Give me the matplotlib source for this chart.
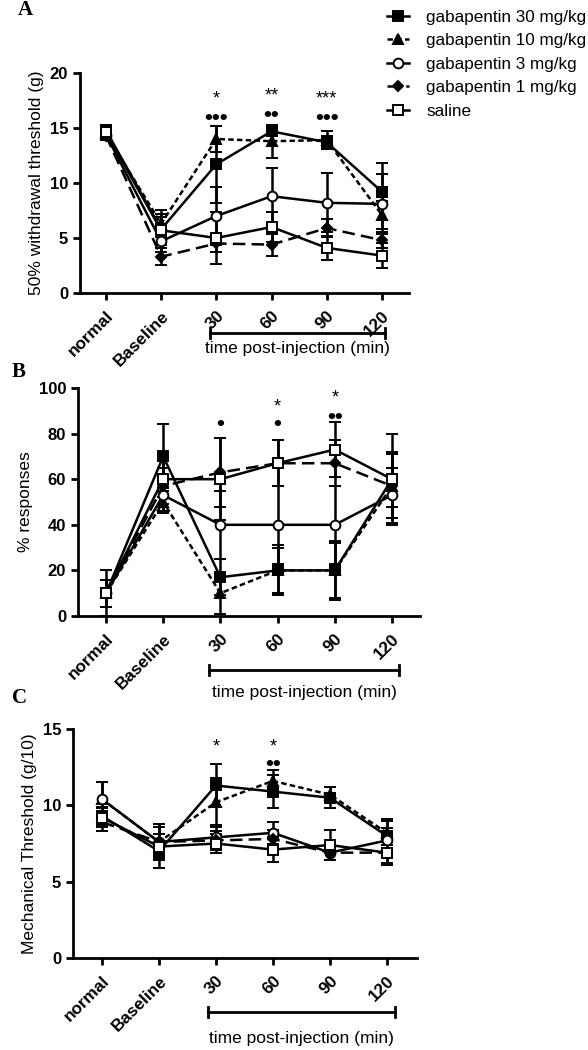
import numpy as np
import matplotlib
matplotlib.use('Agg')
import matplotlib.pyplot as plt
from matplotlib.lines import Line2D

plt.rcParams['font.family'] = ['Liberation Sans', 'DejaVu Sans']

W, H = 588, 1050

categorias = ['normal', 'Baseline', '30', '60', '90', '120']
grupos = ['gabapentin 30 mg/kg', 'gabapentin 10 mg/kg', 'gabapentin 3 mg/kg',
          'gabapentin 1 mg/kg', 'saline']

# Panel A - 50% withdrawal threshold (g)
a_30 = [14.8, 5.8, 11.7, 14.7, 13.7, 9.2]
a_10 = [14.5, 6.3, 14.0, 13.8, 13.9, 7.1]
a_3 = [14.4, 4.7, 7.0, 8.8, 8.2, 8.1]
a_1 = [14.3, 3.3, 4.5, 4.4, 5.9, 4.8]
a_sal = [14.6, 5.7, 5.0, 6.0, 4.1, 3.4]
a_30_err = [0.3, 1.4, 3.5, 0.4, 0.6, 2.6]
a_10_err = [0.3, 1.2, 1.2, 1.5, 0.8, 1.3]
a_3_err = [0.4, 1.0, 2.6, 2.6, 2.7, 2.7]
a_1_err = [0.4, 0.8, 0.8, 1.0, 0.8, 0.7]
a_sal_err = [0.4, 1.2, 2.4, 1.4, 1.1, 1.1]

# Panel B - % responses
b_30 = [10, 70, 17, 20, 20, 60]
b_10 = [10, 50, 10, 20, 20, 57]
b_3 = [10, 53, 40, 40, 40, 53]
b_1 = [10, 57, 63, 67, 67, 57]
b_sal = [10, 60, 60, 67, 73, 60]
b_30_err = [10, 14, 8, 10, 12, 20]
b_10_err = [6, 5, 9, 11, 13, 14]
b_3_err = [6, 7, 15, 17, 17, 12]
b_1_err = [6, 8, 15, 10, 10, 14]
b_sal_err = [6, 8, 18, 10, 12, 12]

# Panel C - Mechanical threshold (g/10)
c_30 = [9.3, 7.0, 11.3, 10.9, 10.5, 8.0]
c_10 = [10.4, 7.6, 10.2, 11.6, 10.7, 8.2]
c_3 = [10.4, 7.6, 7.9, 8.2, 6.9, 7.7]
c_1 = [8.9, 7.6, 7.7, 7.8, 6.9, 6.9]
c_sal = [9.2, 7.3, 7.5, 7.1, 7.4, 6.9]
c_30_err = [0.6, 1.1, 1.4, 1.1, 0.7, 1.1]
c_10_err = [1.1, 1.2, 1.6, 0.7, 0.5, 0.8]
c_3_err = [1.1, 1.2, 0.8, 0.7, 0.5, 0.8]
c_1_err = [0.6, 1.0, 0.6, 0.6, 0.5, 0.8]
c_sal_err = [0.6, 0.8, 0.6, 0.8, 1.0, 0.7]

# anotaciones (indice de categoria, texto, valor y)
a_notas = [(2, '*', 17.6), (2, '•••', 16.1), (3, '**', 17.9), (3, '••', 16.4),
           (4, '***', 17.6), (4, '•••', 16.1)]
b_notas = [(2, '•', 85), (3, '*', 91.5), (3, '•', 85), (4, '*', 95.5), (4, '••', 88.3)]
c_notas = [(2, '*', 13.8), (3, '*', 13.8), (3, '••', 12.85)]

estilos = [
    dict(marker='s', mfc='black', ls='-'),
    dict(marker='^', mfc='black', ls=(0, (2.2, 1.3))),
    dict(marker='o', mfc='white', ls='-'),
    dict(marker='D', mfc='black', ls=(0, (5, 2.5))),
    dict(marker='s', mfc='white', ls='-'),
]


def px(x, y):
    return x / W, 1 - y / H


def dibujar_panel(fig, rect, series, errores, notas, ylim, yticks, ylabel, xlim):
    l, t, r, b = rect
    x0, y0 = px(l, b)
    x1, y1 = px(r, t)
    ax = fig.add_axes([x0, y0, x1 - x0, y1 - y0])
    x = np.arange(len(categorias))
    for vals, errs, est in zip(series, errores, estilos):
        ax.errorbar(x, vals, yerr=errs, color='black', lw=1.8, ls=est['ls'],
                    marker=est['marker'], mfc=est['mfc'], mec='black', mew=1.4,
                    ms=7 if est['marker'] != 'D' else 5.5,
                    ecolor='black', elinewidth=1.8, capsize=4.5, capthick=1.8)
    for i, txt, yv in notas:
        if '*' in txt:
            ax.text(i, yv, txt, ha='center', va='center', fontsize=13)
        else:
            ax.text(i, yv, txt, ha='center', va='center_baseline',
                    fontsize=16, fontweight='bold')
    ax.set_xlim(*xlim)
    ax.set_ylim(*ylim)
    ax.set_yticks(yticks)
    ax.set_xticks(x)
    ax.set_xticklabels(categorias, rotation=45, ha='right', rotation_mode='anchor',
                       fontweight='bold', fontsize=12.3)
    for lab in ax.get_yticklabels():
        lab.set_fontweight('bold')
        lab.set_fontsize(12)
    ax.set_ylabel(ylabel, fontsize=12.5)
    for s in ['top', 'right']:
        ax.spines[s].set_visible(False)
    for s in ['left', 'bottom']:
        ax.spines[s].set_linewidth(2)
    ax.tick_params(width=2, length=5)
    ax.tick_params(axis='x', pad=6)
    return ax


def corchete(fig, xa, xb, yb, ytxt):
    fa = px(xa, yb)
    fb = px(xb, yb)
    fig.add_artist(Line2D([fa[0], fb[0]], [fa[1], fa[1]], color='black', lw=2,
                          transform=fig.transFigure))
    for xx in (xa, xb):
        p1 = px(xx, yb - 5)
        p2 = px(xx, yb + 5)
        fig.add_artist(Line2D([p1[0], p2[0]], [p1[1], p2[1]], color='black', lw=2,
                              transform=fig.transFigure))
    pt = px((xa + xb) / 2, ytxt)
    fig.text(pt[0], pt[1], 'time post-injection (min)', ha='center', va='center',
             fontsize=12.5)


fig = plt.figure(figsize=(W / 100, H / 100), dpi=100)

ax_a = dibujar_panel(fig, (80, 73, 409, 293),
                     [a_30, a_10, a_3, a_1, a_sal],
                     [a_30_err, a_10_err, a_3_err, a_1_err, a_sal_err],
                     a_notas, (0, 20), [0, 5, 10, 15, 20],
                     '50% withdrawal threshold (g)', (-0.47, 5.49))
ax_b = dibujar_panel(fig, (78, 388, 420, 616),
                     [b_30, b_10, b_3, b_1, b_sal],
                     [b_30_err, b_10_err, b_3_err, b_1_err, b_sal_err],
                     b_notas, (0, 100), [0, 20, 40, 60, 80, 100],
                     '% responses', (-0.49, 5.49))
ax_c = dibujar_panel(fig, (73, 729, 417, 958),
                     [c_30, c_10, c_3, c_1, c_sal],
                     [c_30_err, c_10_err, c_3_err, c_1_err, c_sal_err],
                     c_notas, (0, 15), [0, 5, 10, 15],
                     'Mechanical Threshold (g/10)', (-0.51, 5.53))

corchete(fig, 210, 385, 333, 348)
corchete(fig, 209, 399, 670, 693)
corchete(fig, 208, 395, 1012, 1038)

for letra, (lx, ly) in zip(['A', 'B', 'C'], [(18, 10), (12, 372), (12, 698)]):
    p = px(lx, ly)
    fig.text(p[0], p[1], letra, ha='left', va='center', fontsize=15,
             fontweight='bold', family='Liberation Serif')

handles = [Line2D([], [], color='black', lw=1.8, ls=e['ls'], marker=e['marker'],
                  mfc=e['mfc'], mec='black', mew=1.4,
                  ms=7 if e['marker'] != 'D' else 5.5) for e in estilos]
p = px(380, 3)
fig.legend(handles, grupos, loc='upper left', bbox_to_anchor=p, frameon=False,
           fontsize=12.3, handlelength=1.3, labelspacing=0.5, handletextpad=1.0,
           borderaxespad=0)

fig.savefig('out.png', dpi=100)
